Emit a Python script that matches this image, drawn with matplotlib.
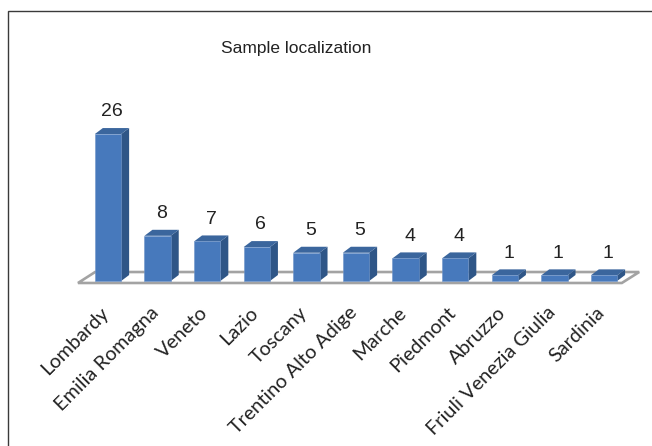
import matplotlib.pyplot as plt
from matplotlib.patches import Polygon, Rectangle
from matplotlib.transforms import ScaledTranslation

# data
regions = ['Lombardy', 'Emilia Romagna', 'Veneto', 'Lazio', 'Toscany',
           'Trentino Alto Adige', 'Marche', 'Piedmont', 'Abruzzo',
           'Friuli Venezia Giulia', 'Sardinia']
samples = [26, 8, 7, 6, 5, 5, 4, 4, 1, 1, 1]

# colours of the pseudo 3d bars
front_col = '#4779bc'
side_col = '#2f5687'
top_col = '#3b669d'

W, H = 652, 446
fig = plt.figure(figsize=(W / 100, H / 100), dpi=100)

# outer frame of the chart area (right/bottom run off the image)
fig.patches.append(Rectangle((8 / W, -0.1), 1.1, 1 - 11 / H + 0.1,
                             transform=fig.transFigure, fill=False,
                             edgecolor='#3a3a3a', lw=1.0))

fig.text(296 / W, 1 - 48 / H, 'Sample localization', ha='center', va='center',
         fontsize=12.5, family='Liberation Sans', color='#222222')

ax = fig.add_axes([40 / W, (H - 284) / H, 612 / W, 224 / H])
ax.set_xlim(-1.371, 10.968)
ax.set_ylim(-0.53, 39.1)

w = 0.53    # bar width
dx = 0.161  # depth offset in x
dy = 1.06   # depth offset in y

# floor
floor = Polygon([(-0.605, -0.35), (10.36, -0.35), (10.71, 1.59), (-0.26, 1.59)],
                closed=True, facecolor='white', edgecolor='#a3a3a3', lw=1.9,
                zorder=1, clip_on=False)
ax.add_patch(floor)

xs = range(len(regions))
ax.bar(xs, samples, width=w, color=front_col, edgecolor='#6f94c8', lw=0.4,
       zorder=3)
for x, v in zip(xs, samples):
    side = Polygon([(x + w / 2, 0), (x + w / 2 + dx, dy),
                    (x + w / 2 + dx, v + dy), (x + w / 2, v)],
                   closed=True, facecolor=side_col, edgecolor='none', zorder=2)
    top = Polygon([(x - w / 2, v), (x + w / 2, v),
                   (x + w / 2 + dx, v + dy), (x - w / 2 + dx, v + dy)],
                  closed=True, facecolor=top_col, edgecolor='none', zorder=2)
    ax.add_patch(side)
    ax.add_patch(top)
    ax.annotate(str(v), (x + dx / 2, v), xytext=(0, 16), textcoords='offset points',
                ha='center', va='center', fontsize=14, family='Liberation Sans',
                color='#222222', annotation_clip=False)

# category labels, rotated, ending just under each bar
shift = ScaledTranslation(-0.08, -0.20, fig.dpi_scale_trans)
for x, name in zip(xs, regions):
    ax.text(x, 0, name, transform=ax.get_xaxis_transform() + shift,
            rotation=45, ha='right', va='top', rotation_mode='anchor',
            fontsize=14.3, family='Lato', color='#222222', clip_on=False)

ax.set_xticks([])
ax.set_yticks([])
for s in ax.spines.values():
    s.set_visible(False)
ax.patch.set_visible(False)

fig.savefig('out.png', dpi=100)
